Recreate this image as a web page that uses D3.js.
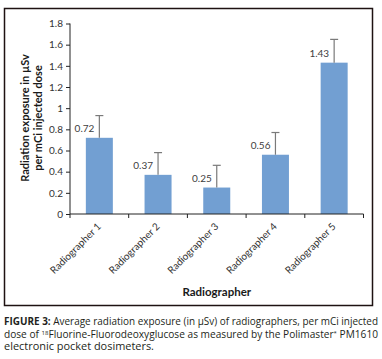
<!DOCTYPE html>
<html>
<head>
<meta charset="utf-8">
<script src="https://cdn.jsdelivr.net/npm/d3@7"></script>
<style>
  html, body { margin: 0; padding: 0; background: #fff; }
  svg { display: block; font-family: Lato, "Open Sans", sans-serif; }
</style>
</head>
<body>
<div id="view"></div>
<script>
// ---- data ----
const categories = ["Radiographer 1", "Radiographer 2", "Radiographer 3", "Radiographer 4", "Radiographer 5"];
const values = [0.72, 0.37, 0.25, 0.56, 1.43];
const errors = [0.21, 0.21, 0.21, 0.21, 0.22];
const yTicks = [0, 0.2, 0.4, 0.6, 0.8, 1, 1.2, 1.4, 1.6, 1.8];
const yTitle = ["Radiation exposure in µSv", "per mCi injected dose"];
const xTitle = "Radiographer";

const rows = categories.map((c, i) => ({ cat: c, v: values[i], e: errors[i] }));

const W = 382, H = 359;
const M = { t: 23.5, l: 70, r: 382 - 363.5, b: 359 - 214 };
const w = W - M.l - M.r, h = H - M.t - M.b;

const svg = d3.select("#view").append("svg").attr("width", W).attr("height", H);

// outer frame
svg.append("rect")
  .attr("x", 4.5).attr("y", 8.5).attr("width", 368).attr("height", 297)
  .attr("fill", "none").attr("stroke", "#1e1212").attr("stroke-width", 1.5);

const g = svg.append("g").attr("transform", `translate(${M.l},${M.t})`);

const x = d3.scaleBand().domain(categories).range([0, w]).paddingInner(0.54).paddingOuter(0.27);
const y = d3.scaleLinear().domain([0, 1.8]).range([h, 0]);

// bars
g.selectAll("rect.bar")
  .data(rows)
  .join("rect")
  .attr("class", "bar")
  .attr("x", d => x(d.cat))
  .attr("y", d => y(d.v))
  .attr("width", x.bandwidth())
  .attr("height", d => h - y(d.v))
  .attr("fill", "#729fd2");

// error bars (upper only)
const eb = g.selectAll("g.err").data(rows).join("g").attr("class", "err")
  .attr("stroke", "#7a7a7a").attr("stroke-width", 1.2);
eb.append("line")
  .attr("x1", d => x(d.cat) + x.bandwidth() / 2)
  .attr("x2", d => x(d.cat) + x.bandwidth() / 2)
  .attr("y1", d => y(d.v))
  .attr("y2", d => y(d.v + d.e));
eb.append("line")
  .attr("x1", d => x(d.cat) + x.bandwidth() / 2 - 4)
  .attr("x2", d => x(d.cat) + x.bandwidth() / 2 + 4)
  .attr("y1", d => y(d.v + d.e))
  .attr("y2", d => y(d.v + d.e));

// value labels
g.selectAll("text.val")
  .data(rows)
  .join("text")
  .attr("class", "val")
  .attr("x", d => x(d.cat) + x.bandwidth() / 2 - 5)
  .attr("y", d => y(d.v) - 6)
  .attr("text-anchor", "end")
  .attr("fill", "#404040")
  .style("font-size", "10px")
  .text(d => d3.format(".2f")(d.v));

// y axis
const yAxis = g.append("g")
  .call(d3.axisLeft(y).tickValues(yTicks).tickSize(4).tickPadding(3)
    .tickFormat(d => String(+d.toFixed(1))));
yAxis.select(".domain").attr("stroke", "#222").attr("d", `M0,0V${h}`);
yAxis.selectAll(".tick line").attr("stroke", "#222");
yAxis.selectAll("text").attr("fill", "#333").style("font-size", "10px").style("font-family", "Lato, sans-serif");

// x axis: ticks between categories
const xAxis = g.append("g").attr("transform", `translate(0,${h})`);
xAxis.append("line").attr("x1", 0).attr("x2", w).attr("stroke", "#222");
const step = x.step();
const bounds = d3.range(categories.length + 1).map(i => x(categories[0]) - x.paddingOuter() * step + i * step);
xAxis.selectAll("line.tk").data(bounds).join("line").attr("class", "tk")
  .attr("x1", d => d).attr("x2", d => d).attr("y1", 0).attr("y2", 4).attr("stroke", "#222");
xAxis.selectAll("text")
  .data(categories)
  .join("text")
  .attr("transform", d => `translate(${x(d) + x.bandwidth() / 2 - 2},${9}) rotate(-45)`)
  .attr("text-anchor", "end")
  .attr("dy", "0.6em")
  .attr("fill", "#333")
  .style("font-size", "10px")
  .text(d => d);

// axis titles
svg.append("text")
  .attr("x", M.l + w / 2).attr("y", 296)
  .attr("text-anchor", "middle")
  .attr("fill", "#1a1a1a")
  .style("font-size", "11.5px").style("font-weight", "bold")
  .text(xTitle);

const yt = svg.append("text")
  .attr("transform", "translate(29,118) rotate(-90)")
  .attr("text-anchor", "middle")
  .attr("fill", "#1a1a1a")
  .style("font-size", "11px").style("font-weight", "bold");
yt.append("tspan").attr("x", 0).attr("y", 0).text(yTitle[0]);
yt.append("tspan").attr("x", 0).attr("y", 13).text(yTitle[1]);

// caption
const cap = svg.append("g").attr("fill", "#231f20")
  .style("font-size", "10px").style("font-family", "'Open Sans', sans-serif");
const l1 = cap.append("text").attr("x", 4).attr("y", 325).attr("textLength", 374).attr("lengthAdjust", "spacingAndGlyphs");
l1.append("tspan").style("font-weight", "bold").text("FIGURE 3:");
l1.append("tspan").text(" Average radiation exposure (in µSv) of radiographers, per mCi injected");
const l2 = cap.append("text").attr("x", 4).attr("y", 337.5).attr("textLength", 374).attr("lengthAdjust", "spacingAndGlyphs");
l2.append("tspan").text("dose of ");
l2.append("tspan").attr("dy", -3).style("font-size", "6px").text("18");
l2.append("tspan").attr("dy", 3).text("Fluorine-Fluorodeoxyglucose as measured by the Polimaster");
l2.append("tspan").attr("dy", -3).style("font-size", "6px").text("*");
l2.append("tspan").attr("dy", 3).text(" PM1610");
cap.append("text").attr("x", 4).attr("y", 350).attr("textLength", 150).attr("lengthAdjust", "spacingAndGlyphs")
  .text("electronic pocket dosimeters.");
</script>
</body>
</html>
